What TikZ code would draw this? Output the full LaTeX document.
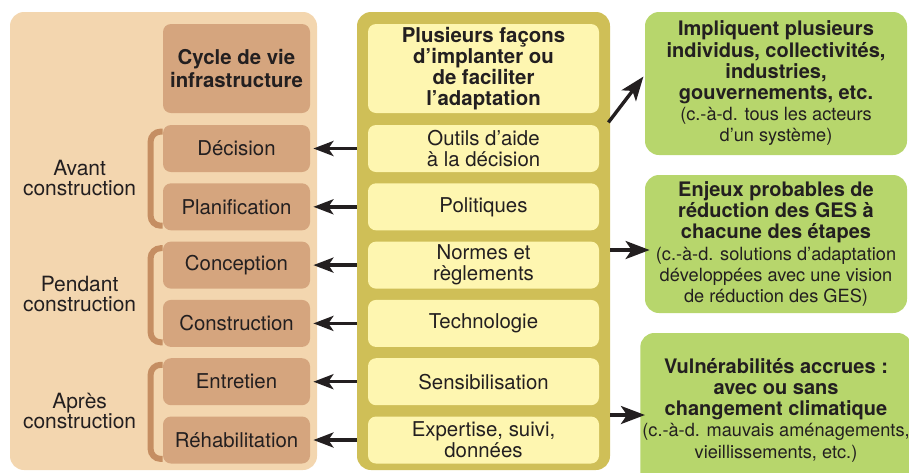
\documentclass[tikz,border=0pt]{standalone}
\usepackage{fontspec}
\setmainfont{TeX Gyre Heros}
\usetikzlibrary{arrows.meta,positioning,calc}
\definecolor{cyclebg}{RGB}{243,214,175}
\definecolor{cyclebox}{RGB}{213,165,126}
\definecolor{bracecol}{RGB}{197,142,98}
\definecolor{adaptbg}{RGB}{207,191,87}
\definecolor{adaptbox}{RGB}{254,246,176}
\definecolor{effectbox}{RGB}{183,214,108}
\definecolor{ink}{RGB}{35,31,32}
\newcommand{\detail}[1]{{\fontsize{9.1}{10.5}\selectfont #1}}

\begin{document}
\begin{tikzpicture}[x=0.5pt,y=-0.5pt,node distance=29.15pt,text=ink,font=\fontsize{10.2}{10.5}\selectfont]
        \tikzstyle{panel} = [rounded corners=7pt, minimum height=229pt]
        \tikzstyle{stage} = [rounded corners=4pt, fill=cyclebox, inner sep=1pt, minimum width=73.5pt, minimum height=23.5pt, align=center]
        \tikzstyle{tool} = [rounded corners=4pt, fill=adaptbox, inner sep=1pt, minimum width=115.5pt, minimum height=23.5pt, align=center]
        \tikzstyle{effect} = [rounded corners=7pt, fill=effectbox, inner sep=1pt, minimum width=131pt, align=center, font=\bfseries\fontsize{10}{10.6}\selectfont]
        \tikzstyle{phase} = [align=center, font=\fontsize{10.5}{10}\selectfont]
        \tikzstyle{brace} = [draw=bracecol, line width=3pt, rounded corners=5pt]
        \tikzstyle{toleft} = [draw=ink, line width=1.7pt, -{Stealth[length=10pt,width=7.5pt,inset=2.5pt]}, shorten >=1.5pt, shorten <=5.5pt]
        \tikzstyle{toright} = [draw=ink, line width=1.7pt, -{Stealth[length=12pt,width=9pt,inset=3pt]}]

        \useasboundingbox (0,0) rectangle (909,472);
        \clip (0,0) rectangle (909,472);

        % Panels
        \node[panel, fill=cyclebg, minimum width=153.5pt] (cycle) at (163.5,241) {};
        \node[panel, fill=adaptbg, minimum width=126.5pt] (adapt) at (483.5,241) {};

        % Life cycle
        \node[stage, minimum height=44.5pt, font=\bfseries\fontsize{10.2}{11.5}\selectfont] (life) at (236.5,68.5) {Cycle de vie\\infrastructure};
        \node[stage] (dec) at (236.5,148.5) {Décision};
        \node[stage, below of=dec] (plan) {Planification};
        \node[stage, below of=plan] (conc) {Conception};
        \node[stage, below of=conc] (constr) {Construction};
        \node[stage, below of=constr] (entr) {Entretien};
        \node[stage, below of=entr] (rehab) {Réhabilitation};

        % Phases
        \node[phase, xshift=-41.5pt] (avant) at ($(dec.west)!0.5!(plan.west)$) {Avant\\construction};
        \node[phase, xshift=-41.5pt] (pendant) at ($(conc.west)!0.5!(constr.west)$) {Pendant\\construction};
        \node[phase, xshift=-41.5pt] (apres) at ($(entr.west)!0.5!(rehab.west)$) {Après\\construction};
        \draw[brace] ([yshift=-3.5pt]dec.north west) -- ++(-6pt,0) |- ([yshift=2.5pt]plan.south west);
        \draw[brace] ([yshift=-3.5pt]conc.north west) -- ++(-6pt,0) |- ([yshift=2.5pt]constr.south west);
        \draw[brace] ([yshift=-3.5pt]entr.north west) -- ++(-6pt,0) |- ([yshift=2.5pt]rehab.south west);

        % Adaptation tools
        \node[tool, minimum height=44.5pt, font=\bfseries\fontsize{10.2}{10.6}\selectfont] (ways) at (483.5,68.5) {Plusieurs façons\\d’implanter ou\\de faciliter\\l’adaptation};
        \node[tool] (aide) at (483.5,148.5) {Outils d’aide\\à la décision};
        \node[tool, below of=aide] (polit) {Politiques};
        \node[tool, below of=polit] (norm) {Normes et\\règlements};
        \node[tool, below of=norm] (techno) {Technologie};
        \node[tool, below of=techno] (sensib) {Sensibilisation};
        \node[tool, below of=sensib] (expert) {Expertise, suivi,\\données};

        % Effects
        \node[effect, minimum height=71.5pt] (actors) at (776,83.5) {Impliquent plusieurs\\individus, collectivités,\\industries,\\gouvernements, etc.\\\detail{\mdseries (c.-à-d. tous les acteurs}\\\detail{\mdseries d’un système)}};
        \node[effect, minimum height=69pt] (issues) at (776,244) {Enjeux probables de\\réduction des GES à\\chacune des étapes\\\detail{\mdseries (c.-à-d. solutions d’adaptation}\\\detail{\mdseries développées avec une vision}\\\detail{\mdseries de réduction des GES)}};
        \node[effect, minimum height=77pt] (vuln) at (776,410) {Vulnérabilités accrues :\\avec ou sans\\changement climatique\\\detail{\mdseries (c.-à-d. mauvais aménagements,}\\\detail{\mdseries vieillissements, etc.)}};

        % Edges
        \path (aide) edge[toleft] (dec);
        \path (polit) edge[toleft] (plan);
        \path (norm) edge[toleft] (conc);
        \path (techno) edge[toleft] (constr);
        \path (sensib) edge[toleft] (entr);
        \path (expert) edge[toleft] (rehab);

        \coordinate (upstart) at ($(ways.south east)+(4.5pt,-4.5pt)$);
        \path (upstart) edge[toright, shorten >=1pt] ([yshift=4.25pt]actors.west);
        \path ($(adapt.east |- issues.west)+(0,-3pt)$) edge[toright] ([xshift=2.5pt,yshift=-3pt]issues.west);
        \path ($(adapt.east |- vuln.west)+(0,-2.5pt)$) edge[toright] ([xshift=2.5pt,yshift=-2.5pt]vuln.west);
\end{tikzpicture}
\end{document}
